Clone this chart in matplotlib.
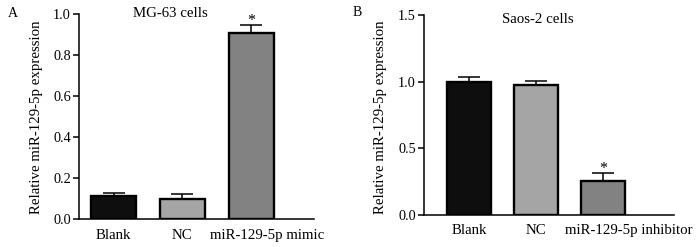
import numpy as np
import matplotlib
matplotlib.use("Agg")
import matplotlib.pyplot as plt
from matplotlib.transforms import ScaledTranslation

plt.rcParams['font.family'] = ['Liberation Serif', 'DejaVu Serif']

groups_a = ["Blank", "NC", "miR-129-5p mimic"]
vals_a = [0.114, 0.098, 0.907]
err_a = [0.016, 0.025, 0.042]

groups_b = ["Blank", "NC", "miR-129-5p inhibitor"]
vals_b = [0.995, 0.973, 0.255]
err_b = [0.042, 0.034, 0.062]

colors = ["#0e0e0e", "#a5a5a5", "#828282"]

fig = plt.figure(figsize=(7.0, 2.47), dpi=100)

def panel(ax, groups, vals, errs, width, xlim, ylim, yticks, title, title_x, title_y,
          last_shift, ylab_x, ylab_y):
    x = np.arange(len(groups))
    ax.bar(x, vals, width=width, color=colors, edgecolor="black", linewidth=1.7, zorder=3)
    ax.errorbar(x, vals, yerr=[np.zeros(len(errs)), errs], fmt="none", ecolor="black",
                elinewidth=1.1, capsize=7.8, capthick=1.1, zorder=2)
    ax.set_xlim(*xlim)
    ax.set_ylim(*ylim)
    ax.set_yticks(yticks)
    ax.set_yticklabels(["%.1f" % t for t in yticks])
    ax.set_xticks(x)
    ax.set_xticklabels(groups)
    ax.tick_params(axis="x", length=0, pad=6.8, labelsize=10.7)
    ax.tick_params(axis="y", length=4.3, width=1.1, labelsize=10.3, pad=1.5)
    lab = ax.get_xticklabels()[-1]
    lab.set_transform(lab.get_transform() + ScaledTranslation(last_shift / 100, 0, fig.dpi_scale_trans))
    for s in ["top", "right"]:
        ax.spines[s].set_visible(False)
    for s in ["left", "bottom"]:
        ax.spines[s].set_linewidth(1.1)
    ax.set_ylabel("Relative miR-129-5p expression", fontsize=10.7)
    ax.yaxis.set_label_coords(ylab_x, ylab_y)
    ax.text(title_x, title_y, title, transform=ax.transAxes, fontsize=10.7,
            ha="center", va="baseline")
    i = len(vals) - 1
    ax.text(x[i], vals[i] + errs[i], "*", ha="center", va="baseline", fontsize=11.5, clip_on=False)

ax_a = fig.add_axes([79 / 700, 1 - 219.3 / 247, 235 / 700, 205 / 247])
panel(ax_a, groups_a, vals_a, err_a, 0.655, (-0.502, 2.916), (0, 1.0),
      [0.0, 0.2, 0.4, 0.6, 0.8, 1.0], "MG-63 cells", 0.389, 0.988, 16, -0.153, 0.5)

ax_b = fig.add_axes([424 / 700, 1 - 215 / 247, 250 / 700, 200 / 247])
panel(ax_b, groups_b, vals_b, err_b, 0.65, (-0.672, 3.06), (0, 1.5),
      [0.0, 0.5, 1.0, 1.5], "Saos-2 cells", 0.455, 0.958, 26, -0.147, 0.49)

fig.text(8 / 700, 1 - 16.7 / 247, "A", fontsize=10, va="baseline")
fig.text(352.5 / 700, 1 - 16.2 / 247, "B", fontsize=10, va="baseline")

fig.savefig("out.png", dpi=100)
